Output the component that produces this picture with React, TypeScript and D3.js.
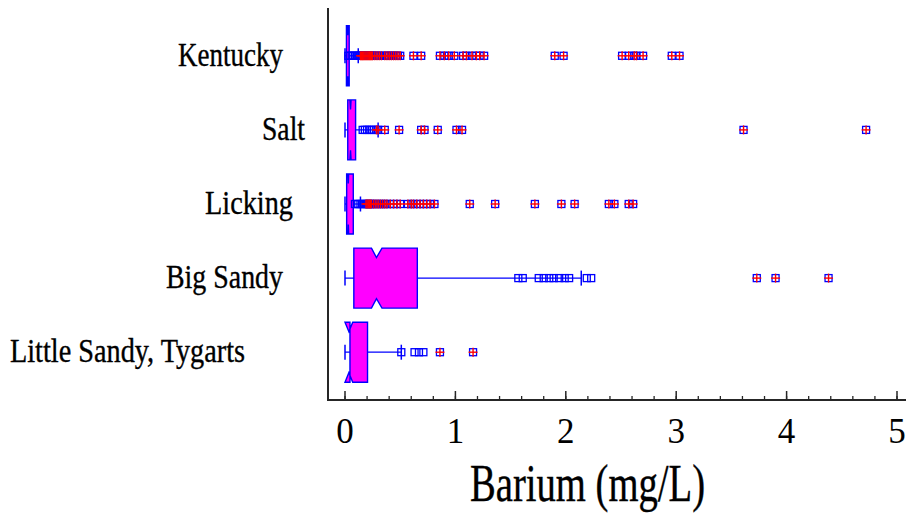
import React from "react";
import * as d3 from "d3";

// ---- data ----
const categories = ["Kentucky", "Salt", "Licking", "Big Sandy", "Little Sandy, Tygarts"];
const whiskerLow = [0, 0, 0, 0, 0];
const q1 = [0.013, 0.025, 0.015, 0.08, 0.045];
const median = [0.025, 0.05, 0.03, 0.285, 0.035];
const q3 = [0.038, 0.096, 0.075, 0.655, 0.204];
const whiskerHigh = [0.12, 0.3, 0.14, 2.14, 0.51];
const notchLow = [0.023, 0.045, 0.027, 0.24, 0.0];
const notchHigh = [0.027, 0.055, 0.033, 0.335, 0.07];

const kentuckyNear = [0.03, 0.045, 0.06, 0.075, 0.09, 0.105, 0.12, 0.13];
const kentuckyFar = [
  0.14, 0.15, 0.16, 0.17, 0.18, 0.19, 0.2, 0.21, 0.22, 0.23, 0.24, 0.25, 0.27, 0.29, 0.31,
  0.33, 0.36, 0.38, 0.4, 0.42, 0.44, 0.46, 0.48, 0.5, 0.62, 0.69, 0.86, 0.9, 0.94, 0.99,
  1.07, 1.1, 1.15, 1.19, 1.22, 1.26, 1.9, 1.98, 2.51, 2.57, 2.62, 2.64, 2.7, 2.96, 3.03,
];
const saltNear = [0.16, 0.18, 0.2, 0.22, 0.24, 0.26];
const saltFar = [0.285, 0.3, 0.36, 0.49, 0.69, 0.72, 0.84, 1.01, 1.06, 3.61, 4.72];
const lickingNear = [0.09, 0.11, 0.12, 0.14, 0.16, 0.17];
const lickingFar = [
  0.19, 0.2, 0.21, 0.22, 0.23, 0.24, 0.26, 0.28, 0.3, 0.32, 0.34, 0.36, 0.38, 0.41, 0.44,
  0.47, 0.5, 0.57, 0.6, 0.62, 0.65, 0.68, 0.71, 0.74, 0.77, 0.81, 1.13, 1.36, 1.72, 1.96,
  2.08, 2.39, 2.44, 2.57, 2.61,
];
const bigSandyNear = [1.57, 1.61, 1.755, 1.8, 1.85, 1.89, 1.94, 1.99, 2.03, 2.19, 2.23];
const bigSandyFar = [3.73, 3.9, 4.38];
const littleSandyNear = [0.51, 0.63, 0.67, 0.71];
const littleSandyFar = [0.86, 1.16];

const nearOutliers = [kentuckyNear, saltNear, lickingNear, bigSandyNear, littleSandyNear];
const farOutliers = [kentuckyFar, saltFar, lickingFar, bigSandyFar, littleSandyFar];

const xTicks = [0, 1, 2, 3, 4, 5];
const xMinorTicks = d3.range(0, 5.001, 0.2);
const xTitle = "Barium (mg/L)";

// ---- layout ----
const W = 906;
const H = 514;
const plotLeft = 328;
const plotRight = 906;
const plotTop = 8;
const plotBottom = 400;
const labelLeft = [178, 262, 205, 166, 10];
const labelWidth = [105, 43, 88, 117, 235];

const BOX = "#ff00ff";
const LINE = "#0000ff";
const RED = "#ff0000";
const AXIS = "#262626";
const FONT = "'Liberation Serif', 'Times New Roman', serif";

export default function App() {
  // 0 -> 345px, 5 -> 897px
  const x = d3.scaleLinear().domain([0, 5]).range([345, 897]);
  const y = d3.scalePoint<string>().domain(categories).range([plotTop, plotBottom]).padding(0.645);
  const boxH = 60;
  const capH = 15;
  const notchD = 9.5;
  const sq = 7;
  const plus = 9;

  return (
    <svg
      width={W}
      height={H}
      style={{ position: "absolute", left: 0, top: 0, background: "#fff" }}
      xmlns="http://www.w3.org/2000/svg"
    >
      <rect x={0} y={0} width={W} height={H} fill="#fff" />
      {categories.map((c, i) => {
        const cy = y(c) as number;
        const top = cy - boxH / 2;
        const bot = cy + boxH / 2;
        const pts: [number, number][] = [
          [x(q1[i]), top],
          [x(notchLow[i]), top],
          [x(median[i]), top + notchD],
          [x(notchHigh[i]), top],
          [x(q3[i]), top],
          [x(q3[i]), bot],
          [x(notchHigh[i]), bot],
          [x(median[i]), bot - notchD],
          [x(notchLow[i]), bot],
          [x(q1[i]), bot],
        ];
        const poly = pts.map((p) => p.join(",")).join(" ");
        return (
          <g key={c}>
            <text
              x={labelLeft[i]}
              y={cy + 10}
              fontFamily={FONT}
              fontSize={33}
              textLength={labelWidth[i]}
              lengthAdjust="spacingAndGlyphs"
              fill="#000"
              stroke="#000"
              strokeWidth={0.35}
            >
              {c}
            </text>
            <line x1={x(whiskerLow[i])} x2={x(whiskerHigh[i])} y1={cy} y2={cy} stroke={LINE} strokeWidth={1.2} />
            <line x1={x(whiskerLow[i])} x2={x(whiskerLow[i])} y1={cy - capH / 2} y2={cy + capH / 2} stroke={LINE} strokeWidth={1.5} />
            <line x1={x(whiskerHigh[i])} x2={x(whiskerHigh[i])} y1={cy - capH / 2} y2={cy + capH / 2} stroke={LINE} strokeWidth={1.5} />
            <polygon points={poly} fill={BOX} stroke={LINE} strokeWidth={1.4} strokeLinejoin="miter" />
            {nearOutliers[i].map((v, j) => (
              <rect key={"n" + j} x={x(v) - sq / 2} y={cy - sq / 2} width={sq} height={sq} fill="none" stroke={LINE} strokeWidth={1.3} />
            ))}
            {farOutliers[i].map((v, j) => (
              <rect key={"fs" + j} x={x(v) - sq / 2} y={cy - sq / 2} width={sq} height={sq} fill="none" stroke={LINE} strokeWidth={1.3} />
            ))}
            {farOutliers[i].map((v, j) => (
              <g key={"fp" + j}>
                <line x1={x(v) - plus / 2} x2={x(v) + plus / 2} y1={cy} y2={cy} stroke={RED} strokeWidth={1.4} />
                <line x1={x(v)} x2={x(v)} y1={cy - plus / 2} y2={cy + plus / 2} stroke={RED} strokeWidth={1.4} />
              </g>
            ))}
          </g>
        );
      })}
      {/* axes */}
      <line x1={plotLeft} x2={plotLeft} y1={plotTop} y2={plotBottom} stroke={AXIS} strokeWidth={2} />
      <line x1={plotLeft - 1} x2={plotRight} y1={plotBottom} y2={plotBottom} stroke={AXIS} strokeWidth={2} />
      {xMinorTicks.map((t, j) => (
        <line key={"m" + j} x1={x(t)} x2={x(t)} y1={plotBottom} y2={plotBottom - 4} stroke={AXIS} strokeWidth={1.3} />
      ))}
      {xTicks.map((t) => (
        <g key={t}>
          <line x1={x(t)} x2={x(t)} y1={plotBottom} y2={plotBottom - 9} stroke={AXIS} strokeWidth={1.5} />
          <text x={x(t)} y={443} textAnchor="middle" fontFamily={FONT} fontSize={35} fill="#000">
            {t}
          </text>
        </g>
      ))}
      <text
        x={470}
        y={501}
        fontFamily={FONT}
        fontSize={52}
        textLength={235}
        lengthAdjust="spacingAndGlyphs"
        fill="#000"
        stroke="#000"
        strokeWidth={0.4}
      >
        {xTitle}
      </text>
    </svg>
  );
}
